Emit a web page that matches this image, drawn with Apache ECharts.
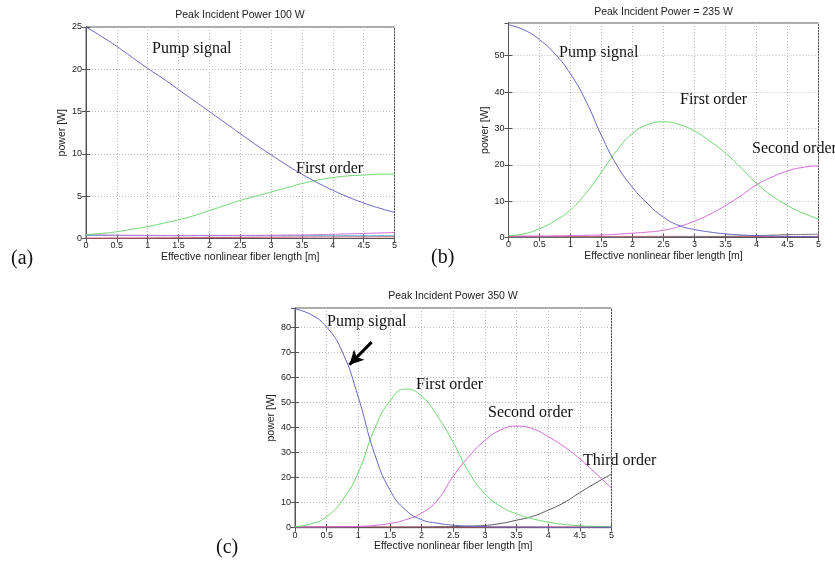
<!DOCTYPE html>
<html>
<head>
<meta charset="utf-8">
<script src="https://cdn.jsdelivr.net/npm/echarts@6.0.0/dist/echarts.min.js"></script>
<style>
  html, body { margin: 0; padding: 0; background: #fff; }
  #chart { width: 835px; height: 561px; }
</style>
</head>
<body>
<div id="chart"></div>
<script>
// fiber length samples [m], shared by all three panels
const lengths = [0, 0.25, 0.5, 0.75, 1, 1.25, 1.5, 1.75, 2, 2.25, 2.5, 2.75, 3, 3.25, 3.5, 3.75, 4, 4.25, 4.5, 4.75, 5];

// (a) peak incident power 100 W
const pumpA   = [25, 23.9, 22.7, 21.4, 20.1, 18.9, 17.6, 16.3, 15.0, 13.7, 12.4, 11.1, 9.9, 8.7, 7.6, 6.6, 5.7, 4.9, 4.2, 3.6, 3.1];
const firstA  = [0.45, 0.6, 0.8, 1.1, 1.4, 1.8, 2.2, 2.7, 3.3, 3.9, 4.5, 5.0, 5.5, 6.0, 6.5, 6.9, 7.2, 7.4, 7.5, 7.6, 7.6];
const secondA = [0.45, 0.42, 0.4, 0.38, 0.37, 0.36, 0.35, 0.35, 0.35, 0.35, 0.36, 0.37, 0.38, 0.4, 0.42, 0.45, 0.5, 0.55, 0.6, 0.65, 0.7];
const thirdA  = [0.35, 0.35, 0.34, 0.34, 0.34, 0.33, 0.33, 0.33, 0.33, 0.33, 0.33, 0.33, 0.33, 0.33, 0.33, 0.33, 0.33, 0.33, 0.33, 0.33, 0.33];
const fourthA = [0.05, 0.05, 0.06, 0.06, 0.07, 0.08, 0.09, 0.1, 0.11, 0.12, 0.13, 0.14, 0.15, 0.16, 0.17, 0.18, 0.18, 0.19, 0.19, 0.2, 0.2];

// (b) peak incident power 235 W
const pumpB   = [58.5, 57.1, 54.4, 50.5, 45.0, 37.5, 28.0, 19.8, 13.8, 9.2, 5.6, 3.3, 2.2, 1.5, 1.0, 0.7, 0.5, 0.4, 0.3, 0.25, 0.2];
const firstB  = [0.5, 1.0, 2.4, 4.6, 7.6, 12.2, 18.0, 24.0, 28.6, 31.1, 31.8, 31.1, 29.3, 26.5, 23.2, 19.2, 14.9, 11.5, 8.8, 6.7, 5.1];
const secondB = [0.4, 0.4, 0.4, 0.45, 0.5, 0.6, 0.7, 0.9, 1.2, 1.5, 2.0, 3.0, 4.5, 6.4, 8.8, 11.5, 14.5, 16.6, 18.3, 19.3, 19.7];
const thirdB  = [0.1, 0.1, 0.1, 0.1, 0.1, 0.1, 0.1, 0.12, 0.14, 0.16, 0.18, 0.2, 0.22, 0.26, 0.3, 0.4, 0.5, 0.65, 0.8, 0.85, 0.9];
const fourthB = [0.3, 0.3, 0.3, 0.3, 0.3, 0.3, 0.3, 0.3, 0.3, 0.3, 0.3, 0.3, 0.3, 0.3, 0.3, 0.3, 0.3, 0.3, 0.3, 0.3, 0.3];

// (c) peak incident power 350 W
const pumpC   = [87.2, 85.0, 80.0, 70.0, 52.0, 30.0, 15.0, 7.0, 3.2, 1.8, 1.0, 0.6, 0.4, 0.3, 0.3, 0.25, 0.2, 0.2, 0.2, 0.2, 0.2];
const firstC  = [0.4, 1.5, 4.4, 11.0, 22.0, 39.0, 50.5, 55.3, 52.5, 44.5, 34.0, 22.0, 13.5, 8.5, 5.5, 3.6, 2.2, 1.3, 0.8, 0.5, 0.4];
const secondC = [0.3, 0.3, 0.35, 0.4, 0.5, 0.9, 1.7, 3.2, 5.8, 11.0, 20.5, 28.5, 34.8, 39.0, 40.5, 39.5, 36.3, 32.3, 27.5, 21.7, 15.8];
const thirdC  = [0.2, 0.2, 0.2, 0.2, 0.2, 0.2, 0.2, 0.2, 0.2, 0.3, 0.4, 0.6, 0.9, 1.7, 3.0, 4.5, 7.0, 10.0, 14.0, 17.8, 21.4];
const fourthC = [0.3, 0.3, 0.3, 0.3, 0.3, 0.3, 0.3, 0.3, 0.3, 0.3, 0.3, 0.3, 0.3, 0.3, 0.3, 0.3, 0.3, 0.3, 0.3, 0.3, 0.3];

const xTicks = {min: 0, max: 5, interval: 0.5};
const yMax = [25, 59, 87.6];
const yStep = [5, 10, 10];
const titles = ['Peak Incident Power 100 W', 'Peak Incident Power = 235 W', 'Peak Incident Power 350 W'];

const colors = {pump: '#6464c2', first: '#6cd86c', second: '#d468d8', third: '#555555', fourth: '#d84a6a'};

const grids = [
  {left: 86, top: 27, width: 308.5, height: 211.5},
  {left: 508.5, top: 23, width: 310, height: 214.5},
  {left: 295, top: 308, width: 316.5, height: 219.7}
];

const chart = echarts.init(document.getElementById('chart'));

const xAxes = [];
const yAxes = [];
grids.forEach((g, i) => {
  xAxes.push({
    type: 'value', gridIndex: i, ...xTicks,
    name: 'Effective nonlinear fiber length [m]',
    nameLocation: 'middle', nameGap: 13,
    nameTextStyle: {fontFamily: 'Liberation Sans', fontSize: 10.5, color: '#222'},
    axisLine: {show: true, lineStyle: {color: '#555'}},
    axisTick: {inside: true, length: 4, lineStyle: {color: '#555'}},
    axisLabel: {fontFamily: 'Liberation Sans', fontSize: 9, color: '#222', margin: 3},
    splitLine: {show: true, lineStyle: {color: '#bdbdbd', type: [1, 2]}}
  });
  yAxes.push({
    type: 'value', gridIndex: i, min: 0, max: yMax[i], interval: yStep[i],
    name: 'power [W]',
    nameLocation: 'middle', nameGap: [12, 11, 14][i],
    nameTextStyle: {fontFamily: 'Liberation Sans', fontSize: 10.5, color: '#222'},
    axisLine: {show: true, lineStyle: {color: '#555'}},
    axisTick: {inside: true, length: 4, lineStyle: {color: '#555'}},
    axisLabel: {fontFamily: 'Liberation Sans', fontSize: 9, color: '#222', margin: 4, showMaxLabel: i === 0},
    splitLine: {show: true, lineStyle: {color: '#bdbdbd', type: [1, 2]}}
  });
});
// box ticks on top and right, as in the original plots
grids.forEach((g, i) => {
  xAxes.push({
    type: 'value', gridIndex: i, position: 'top', ...xTicks,
    axisLine: {show: true, lineStyle: {color: '#555'}},
    axisTick: {inside: true, length: 4, lineStyle: {color: '#555'}},
    axisLabel: {show: false}, splitLine: {show: false}
  });
  yAxes.push({
    type: 'value', gridIndex: i, position: 'right', min: 0, max: yMax[i], interval: yStep[i],
    axisLine: {show: true, lineStyle: {color: '#555'}},
    axisTick: {inside: true, length: 4, lineStyle: {color: '#555'}},
    axisLabel: {show: false}, splitLine: {show: false}
  });
});

function line(values, color, idx, extra) {
  return Object.assign({
    type: 'line', xAxisIndex: idx, yAxisIndex: idx,
    data: lengths.map((x, k) => [x, values[k]]),
    showSymbol: false, smooth: 0.5,
    lineStyle: {color: color, width: 1}, itemStyle: {color: color},
    silent: true
  }, extra || {});
}

const series = [
  line(fourthA, colors.fourth, 0), line(thirdA, '#40b8c8', 0),
  line(secondA, colors.second, 0), line(firstA, colors.first, 0), line(pumpA, colors.pump, 0),

  line(fourthB, colors.fourth, 1), line(thirdB, '#777777', 1),
  line(secondB, colors.second, 1), line(firstB, colors.first, 1), line(pumpB, colors.pump, 1),

  line(fourthC, colors.fourth, 2), line(thirdC, colors.third, 2),
  line(secondC, colors.second, 2), line(firstC, colors.first, 2),
  line(pumpC, colors.pump, 2, {
    markLine: {
      silent: true, symbol: ['none', 'arrow'], symbolSize: [11, 14],
      label: {show: false},
      lineStyle: {color: '#000', width: 3, type: 'solid'},
      data: [[{coord: [1.21, 74]}, {coord: [0.86, 65]}]]
    }
  })
];

const serif = '16px "Liberation Serif", "DejaVu Serif", serif';
function note(text, x, y, size) {
  return {
    type: 'text', x: x, y: y, silent: true,
    style: {text: text, font: size ? size + 'px "Liberation Serif", serif' : serif, fill: '#111', align: 'left', verticalAlign: 'middle'}
  };
}

chart.setOption({
  animation: false,
  backgroundColor: '#fff',
  title: [
    {text: titles[0], left: 240, top: 10, textAlign: 'center', padding: 0},
    {text: titles[1], left: 663.5, top: 7, textAlign: 'center', padding: 0},
    {text: titles[2], left: 453, top: 291, textAlign: 'center', padding: 0}
  ].map(t => Object.assign(t, {textStyle: {fontFamily: 'Liberation Sans', fontSize: 10.5, fontWeight: 'normal', color: '#222'}})),
  grid: grids.map(g => Object.assign({show: true, borderColor: '#555', borderWidth: 1, backgroundColor: '#fff'}, g)),
  xAxis: xAxes,
  yAxis: yAxes,
  series: series,
  graphic: [
    note('Pump signal', 152, 49), note('First order', 296, 169),
    note('Pump signal', 559, 53), note('First order', 680, 100), note('Second order', 752, 149),
    note('Pump signal', 327, 322), note('First order', 416, 385),
    note('Second order', 488, 413), note('Third order', 583, 461),
    note('(a)', 11, 259, 20), note('(b)', 431, 258, 20), note('(c)', 216, 548, 20)
  ]
});
</script>
</body>
</html>
